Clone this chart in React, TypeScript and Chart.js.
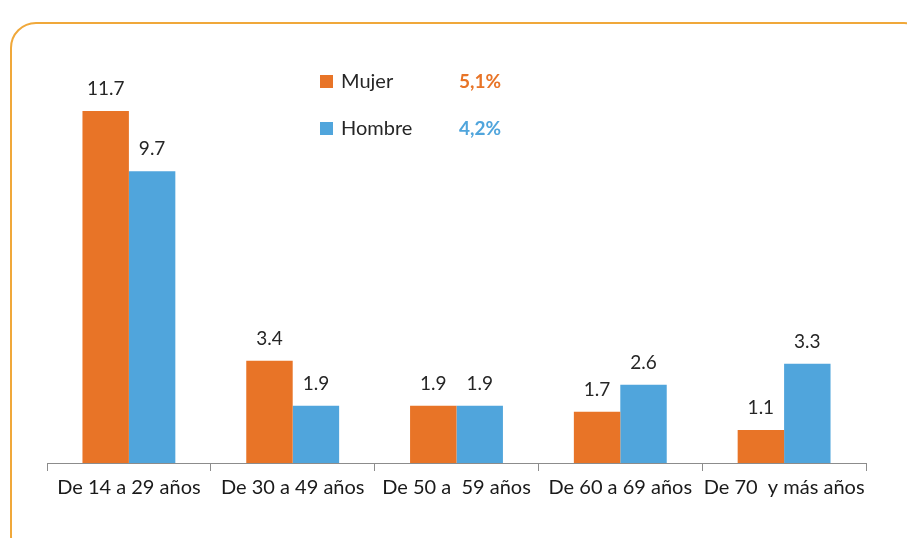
import React, { useEffect, useRef } from "react";
import { Chart, registerables } from "chart.js";

Chart.register(...registerables);

const categories = ["De 14 a 29 años", "De 30 a 49 años", "De 50 a  59 años", "De 60 a 69 años", "De 70  y más años"];
const mujerValues = [11.7, 3.4, 1.9, 1.7, 1.1];
const hombreValues = [9.7, 1.9, 1.9, 2.6, 3.3];
const seriesNames = ["Mujer", "Hombre"];
const seriesTotals = ["5,1%", "4,2%"];

const ORANGE = "#E87427";
const BLUE = "#50A5DC";
const FONT = "Lato, 'Open Sans', sans-serif";

const labelPlugin = {
  id: "valueLabels",
  afterDatasetsDraw(chart: any) {
    const ctx = chart.ctx;
    ctx.save();
    ctx.font = `19px ${FONT}`;
    ctx.fillStyle = "#262626";
    ctx.textAlign = "center";
    ctx.textBaseline = "alphabetic";
    chart.data.datasets.forEach((ds: any, di: number) => {
      const meta = chart.getDatasetMeta(di);
      meta.data.forEach((bar: any, i: number) => {
        ctx.fillText(Number(ds.data[i]).toFixed(1), bar.x, bar.y - 16);
      });
    });
    // legend
    const colors = [ORANGE, BLUE];
    const ys = [81, 128];
    seriesNames.forEach((name, i) => {
      ctx.fillStyle = colors[i];
      ctx.fillRect(320, ys[i] - 6, 13, 13);
      ctx.fillStyle = "#262626";
      ctx.textAlign = "left";
      ctx.textBaseline = "middle";
      ctx.font = `20px ${FONT}`;
      ctx.fillText(name, 341, ys[i] + 1);
      ctx.fillStyle = colors[i];
      ctx.font = `bold 19px ${FONT}`;
      ctx.fillText(seriesTotals[i], 459, ys[i] + 1);
    });
    ctx.restore();
  },
};

export default function App() {
  const ref = useRef<HTMLCanvasElement | null>(null);
  useEffect(() => {
    if (!ref.current) return;
    const chart = new Chart(ref.current, {
      type: "bar",
      data: {
        labels: categories,
        datasets: [
          { label: seriesNames[0], data: mujerValues, backgroundColor: ORANGE, barPercentage: 1, categoryPercentage: 0.567 },
          { label: seriesNames[1], data: hombreValues, backgroundColor: BLUE, barPercentage: 1, categoryPercentage: 0.567 },
        ],
      },
      options: {
        animation: false,
        responsive: false,
        maintainAspectRatio: false,
        layout: { padding: { left: 47, right: 41, top: 72, bottom: 33 } },
        plugins: { legend: { display: false }, tooltip: { enabled: false } },
        scales: {
          x: {
            grid: { display: true, drawOnChartArea: false, drawTicks: true, tickLength: 8, color: "#8c8c8c", offset: true },
            border: { display: true, color: "#8c8c8c", width: 1 },
            ticks: { color: "#1a1a1a", font: { family: FONT, size: 20 }, padding: 5, maxRotation: 0, autoSkip: false },
          },
          y: { display: false, min: 0, max: 13 },
        },
      },
      plugins: [labelPlugin],
    });
    return () => chart.destroy();
  }, []);
  return (
    <div style={{ position: "fixed", left: 0, top: 0, width: 907, height: 538, background: "#fff", overflow: "hidden" }}>
      <div
        style={{
          position: "absolute",
          left: 10,
          top: 22,
          width: 920,
          height: 540,
          border: "2px solid #F0A83A",
          borderRadius: 26,
          boxSizing: "border-box",
        }}
      />
      <canvas ref={ref} width={907} height={538} style={{ position: "absolute", left: 0, top: 0 }} />
    </div>
  );
}
